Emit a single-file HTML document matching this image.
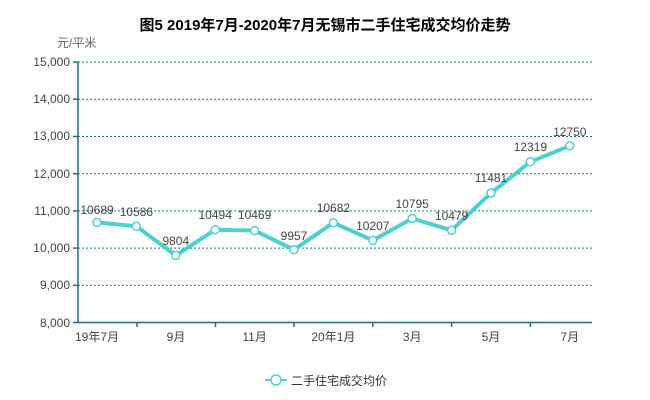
<!DOCTYPE html>
<html><head><meta charset="utf-8"><style>
body{margin:0;background:#fff;}
svg{display:block;font-family:"Liberation Sans","Noto Sans CJK SC",sans-serif;}
</style></head><body>
<svg width="650" height="400" viewBox="0 0 650 400">
<text x="325" y="30" text-anchor="middle" font-size="15" font-weight="bold" fill="#000">图5 2019年7月-2020年7月无锡市二手住宅成交均价走势</text>
<text x="57" y="47" font-size="12" fill="#666">元/平米</text>
<g stroke="#1f6f7f" stroke-width="1" stroke-dasharray="2,2">
<line x1="78" y1="62" x2="592" y2="62"/><line x1="78" y1="99.2" x2="592" y2="99.2"/>
<line x1="78" y1="136.5" x2="592" y2="136.5"/><line x1="78" y1="173.7" x2="592" y2="173.7"/>
<line x1="78" y1="210.9" x2="592" y2="210.9"/><line x1="78" y1="248.1" x2="592" y2="248.1"/>
<line x1="78" y1="285.3" x2="592" y2="285.3"/>
</g>
<g stroke="#1f6f7f" stroke-width="1.5">
<line x1="78" y1="62" x2="78" y2="322.5"/><line x1="78" y1="322.5" x2="592" y2="322.5"/>
<line x1="73" y1="62" x2="78" y2="62"/><line x1="73" y1="99.2" x2="78" y2="99.2"/><line x1="73" y1="136.5" x2="78" y2="136.5"/><line x1="73" y1="173.7" x2="78" y2="173.7"/><line x1="73" y1="210.9" x2="78" y2="210.9"/><line x1="73" y1="248.1" x2="78" y2="248.1"/><line x1="73" y1="285.3" x2="78" y2="285.3"/><line x1="73" y1="322.5" x2="78" y2="322.5"/>
<line x1="137" y1="322.5" x2="137" y2="327"/><line x1="215.5" y1="322.5" x2="215.5" y2="327"/><line x1="294" y1="322.5" x2="294" y2="327"/><line x1="372.8" y1="322.5" x2="372.8" y2="327"/><line x1="451.6" y1="322.5" x2="451.6" y2="327"/><line x1="530.4" y1="322.5" x2="530.4" y2="327"/>
</g>
<g font-size="12" fill="#444" text-anchor="end">
<text x="70" y="66">15,000</text><text x="70" y="103">14,000</text><text x="70" y="140">13,000</text><text x="70" y="178">12,000</text><text x="70" y="215">11,000</text><text x="70" y="252">10,000</text><text x="70" y="289">9,000</text><text x="70" y="327">8,000</text>
</g>
<g font-size="12" fill="#444" text-anchor="middle">
<text x="97" y="341">19年7月</text><text x="176" y="341">9月</text><text x="254.6" y="341">11月</text><text x="333.4" y="341">20年1月</text><text x="412.2" y="341">3月</text><text x="491" y="341">5月</text><text x="569.8" y="341">7月</text>
</g>
<polyline fill="none" stroke="#4fd0d0" stroke-width="4" stroke-linejoin="round" points="97,222.4 136.4,226.3 175.8,255.4 215.2,229.7 254.6,230.6 294,249.7 333.4,222.7 372.8,240.4 412.2,218.5 451.6,230.3 491,193 530.4,161.8 569.8,145.8"/>
<g fill="#fff" stroke="#4fd0d0" stroke-width="1.5">
<circle cx="97" cy="222.4" r="4"/><circle cx="136.4" cy="226.3" r="4"/><circle cx="175.8" cy="255.4" r="4"/><circle cx="215.2" cy="229.7" r="4"/><circle cx="254.6" cy="230.6" r="4"/><circle cx="294" cy="249.7" r="4"/><circle cx="333.4" cy="222.7" r="4"/><circle cx="372.8" cy="240.4" r="4"/><circle cx="412.2" cy="218.5" r="4"/><circle cx="451.6" cy="230.3" r="4"/><circle cx="491" cy="193" r="4"/><circle cx="530.4" cy="161.8" r="4"/><circle cx="569.8" cy="145.8" r="4"/>
</g>
<g font-size="12" fill="#444" text-anchor="middle">
<text x="97" y="214">10689</text><text x="136.4" y="216">10586</text><text x="175.8" y="245">9804</text><text x="215.2" y="219">10494</text><text x="254.6" y="219">10469</text><text x="294" y="240">9957</text><text x="333.4" y="212">10682</text><text x="372.8" y="230">10207</text><text x="412.2" y="208">10795</text><text x="451.6" y="220">10479</text><text x="491" y="182">11481</text><text x="530.4" y="151">12319</text><text x="569.8" y="136">12750</text>
</g>
<line x1="265" y1="380" x2="287" y2="380" stroke="#4fd0d0" stroke-width="2"/>
<circle cx="276" cy="380" r="5" fill="#fff" stroke="#4fd0d0" stroke-width="1.5"/>
<text x="291" y="385" font-size="12" fill="#333">二手住宅成交均价</text>
</svg>
</body></html>
